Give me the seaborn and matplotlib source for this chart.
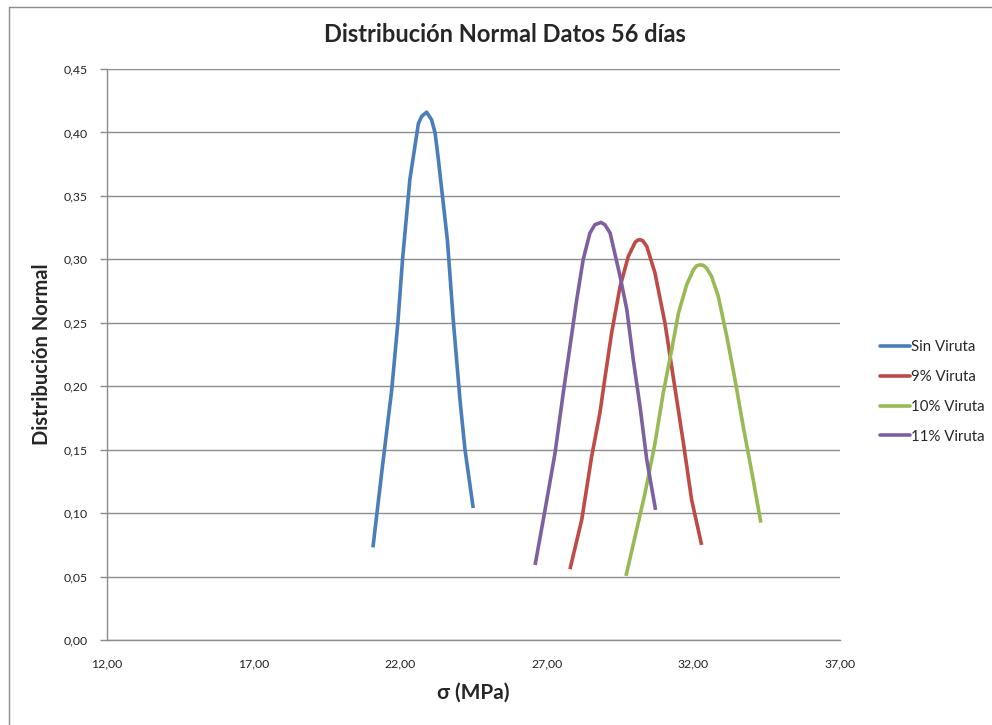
import matplotlib
matplotlib.use("Agg")
import matplotlib.pyplot as plt
from matplotlib.lines import Line2D
import seaborn as sns
import pandas as pd

# ---- data ----
sin_x = [21.07, 21.38, 21.71, 21.92, 22.08, 22.33, 22.62, 22.73, 22.90, 23.07, 23.19, 23.30, 23.61, 23.81, 24.04, 24.21, 24.49]
sin_y = [0.073, 0.134, 0.197, 0.250, 0.300, 0.363, 0.407, 0.4126, 0.416, 0.410, 0.3996, 0.379, 0.315, 0.252, 0.189, 0.150, 0.104]

v9_x = [27.79, 28.19, 28.53, 28.81, 28.99, 29.21, 29.50, 29.78, 30.01, 30.09, 30.18, 30.27, 30.41, 30.69, 31.03, 31.31, 31.66, 31.94, 32.28]
v9_y = [0.0558, 0.0946, 0.1446, 0.1788, 0.2077, 0.2419, 0.2786, 0.3023, 0.3133, 0.3150, 0.3155, 0.3147, 0.3102, 0.2892, 0.2498, 0.2077, 0.1551, 0.1104, 0.0749]

v10_x = [29.70, 30.01, 30.35, 30.69, 30.97, 31.26, 31.49, 31.77, 32.00, 32.11, 32.23, 32.34, 32.45, 32.62, 32.85, 33.14, 33.42, 33.70, 34.04, 34.30]
v10_y = [0.0505, 0.0815, 0.1157, 0.1551, 0.1946, 0.2287, 0.2576, 0.2800, 0.2918, 0.2949, 0.2957, 0.2953, 0.2931, 0.2865, 0.2707, 0.2392, 0.2050, 0.1682, 0.1262, 0.0925]

v11_x = [26.60, 26.94, 27.28, 27.56, 27.79, 28.02, 28.24, 28.47, 28.64, 28.85, 28.98, 29.16, 29.50, 29.73, 29.95, 30.18, 30.41, 30.71]
v11_y = [0.0591, 0.1025, 0.1472, 0.1946, 0.2313, 0.2681, 0.2997, 0.3207, 0.3273, 0.3291, 0.3273, 0.3207, 0.2865, 0.2603, 0.2208, 0.1840, 0.1420, 0.1025]

series_names = ["Sin Viruta", "9% Viruta", "10% Viruta", "11% Viruta"]
series_colors = ["#4A7EBB", "#BE4B48", "#98B954", "#7D60A0"]

x_ticks = [12, 17, 22, 27, 32, 37]
y_ticks = [0.00, 0.05, 0.10, 0.15, 0.20, 0.25, 0.30, 0.35, 0.40, 0.45]

title = "Distribución Normal Datos 56 días"
xlabel = "σ (MPa)"
ylabel = "Distribución Normal"

# ---- build table ----
frames = []
for name, xs, ys in zip(series_names, [sin_x, v9_x, v10_x, v11_x], [sin_y, v9_y, v10_y, v11_y]):
    frames.append(pd.DataFrame({"x": xs, "y": ys, "serie": name}))
df = pd.concat(frames, ignore_index=True)

sns.set_style("white")
plt.rcParams["font.family"] = ["Lato", "DejaVu Sans"]

fig = plt.figure(figsize=(9.92, 7.25), dpi=100)
ax = fig.add_axes([107 / 992, 1 - 640 / 725, (840 - 107) / 992, (640 - 69) / 725])

sns.lineplot(data=df, x="x", y="y", hue="serie", hue_order=series_names,
             palette=series_colors, sort=False, estimator=None, ax=ax,
             linewidth=2.6, legend=False, solid_joinstyle="round", solid_capstyle="butt")

ax.set_xlim(12, 37)
ax.set_ylim(0, 0.45)
ax.set_xticks(x_ticks)
ax.set_xticklabels([f"{v:.2f}".replace(".", ",") for v in x_ticks])
ax.set_yticks(y_ticks)
ax.set_yticklabels([f"{v:.2f}".replace(".", ",") for v in y_ticks])
ax.yaxis.grid(True, color="#8C8C8C", linewidth=1.0)
ax.xaxis.grid(False)
ax.set_axisbelow(True)
for s in ["top", "right"]:
    ax.spines[s].set_visible(False)
for s in ["left", "bottom"]:
    ax.spines[s].set_color("#8C8C8C")
    ax.spines[s].set_linewidth(1.0)
ax.tick_params(axis="y", which="major", length=5, color="#8C8C8C", width=1.0,
               labelsize=8.8, labelcolor="#222222", pad=9, left=True)
ax.tick_params(axis="x", which="major", length=0, labelsize=8.8, labelcolor="#222222", pad=13)

ax.set_xlabel(xlabel, fontsize=15, fontweight="bold", labelpad=10)
ax.set_ylabel(ylabel, fontsize=14.5, fontweight="bold", labelpad=8)

fig.text(505 / 992, 1 - 35 / 725, title, ha="center", va="center",
         fontsize=17, fontweight="bold")

handles = [Line2D([0], [0], color=c, linewidth=2.6) for c in series_colors]
fig.legend(handles, series_names, loc="center left",
           bbox_to_anchor=(866 / 992, 1 - 392 / 725), frameon=False,
           fontsize=10.8, handlelength=2.0, handletextpad=0.1, labelspacing=1.05)

# outer chart border (top and left visible)
fig.add_artist(Line2D([9 / 992, 1], [1 - 7 / 725, 1 - 7 / 725], color="#8C8C8C",
                      linewidth=1.0, transform=fig.transFigure))
fig.add_artist(Line2D([9 / 992, 9 / 992], [0, 1 - 7 / 725], color="#8C8C8C",
                      linewidth=1.0, transform=fig.transFigure))

fig.savefig("out.png", dpi=100)
